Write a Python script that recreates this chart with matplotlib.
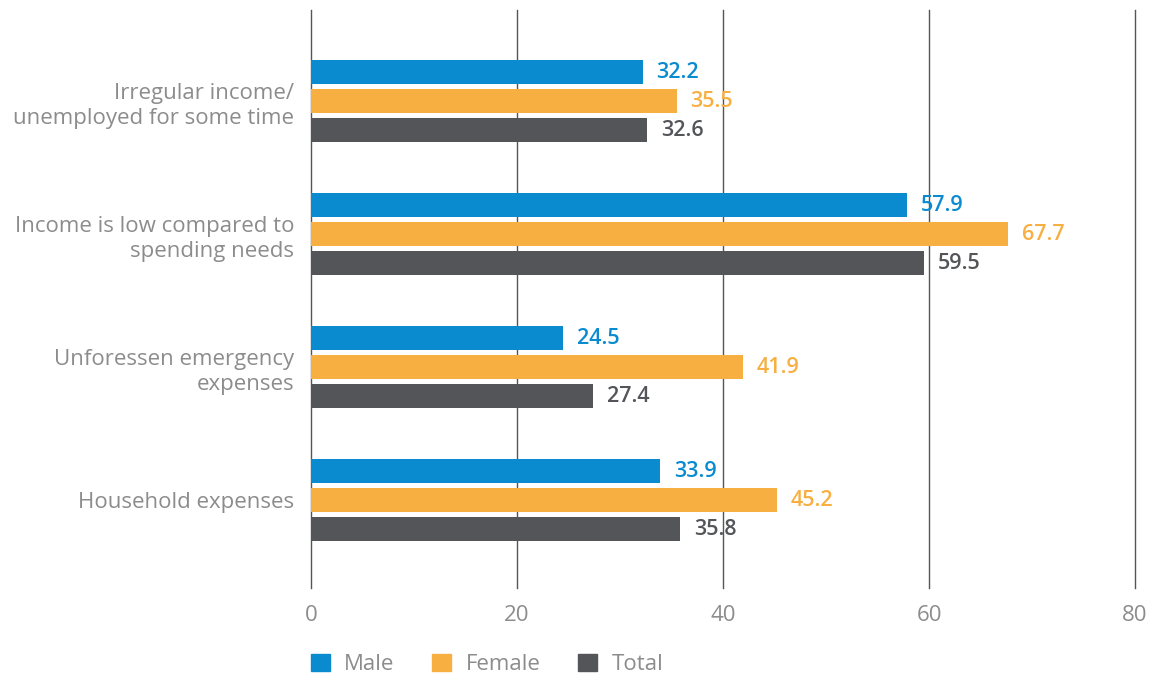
import numpy as np
import matplotlib.pyplot as plt
from matplotlib.patches import Patch

# data
categories = ["Irregular income/\nunemployed for some time",
              "Income is low compared to\nspending needs",
              "Unforessen emergency\nexpenses",
              "Household expenses"]
male = [32.2, 57.9, 24.5, 33.9]
female = [35.5, 67.7, 41.9, 45.2]
total = [32.6, 59.5, 27.4, 35.8]
series_names = ["Male", "Female", "Total"]
colors = ["#0a8bd0", "#f8af42", "#545559"]
label_colors = ["#0a8bd0", "#f8af42", "#545559"]
txt_gray = "#8c8c8c"

plt.rcParams['font.family'] = ['Open Sans', 'DejaVu Sans']

fig = plt.figure(figsize=(11.58, 6.75), dpi=100)
ax = fig.add_axes([311/1158, 1-588/675, (1135-311)/1158, (588-10)/675])

y = np.arange(len(categories))
h = 0.18
off = 0.218
for i, vals in enumerate([male, female, total]):
    pos = y + (i - 1) * off
    ax.barh(pos, vals, height=h, color=colors[i], zorder=3)
    for p, v in zip(pos, vals):
        ax.text(v + 1.35, p, f"{v:.1f}", va='center', ha='left',
                fontsize=15.5, color=label_colors[i], fontweight='semibold')

ax.set_xlim(0, 80)
ax.set_ylim(3.66, -0.684)
ax.set_xticks([0, 20, 40, 60, 80])
ax.set_yticks(y)
ax.set_yticklabels(categories, fontsize=16, color=txt_gray, linespacing=1.25)
ax.tick_params(axis='y', length=0, pad=12)
ax.tick_params(axis='x', length=0, pad=12, labelsize=16, labelcolor=txt_gray)
ax.grid(axis='x', color='#555555', linewidth=1, zorder=0)
for gl in ax.get_xgridlines():
    gl.set_clip_on(False)
for s in ax.spines.values():
    s.set_visible(False)

handles = [Patch(color=c, label=n) for c, n in zip(colors, series_names)]
leg = fig.legend(handles=handles, loc='lower left', bbox_to_anchor=(291/1158, -0.03),
                 ncol=3, frameon=False, fontsize=16, handlelength=0.85, handleheight=0.85,
                 columnspacing=1.7, handletextpad=0.65)
for t in leg.get_texts():
    t.set_color(txt_gray)

fig.savefig("out.png", dpi=100)
